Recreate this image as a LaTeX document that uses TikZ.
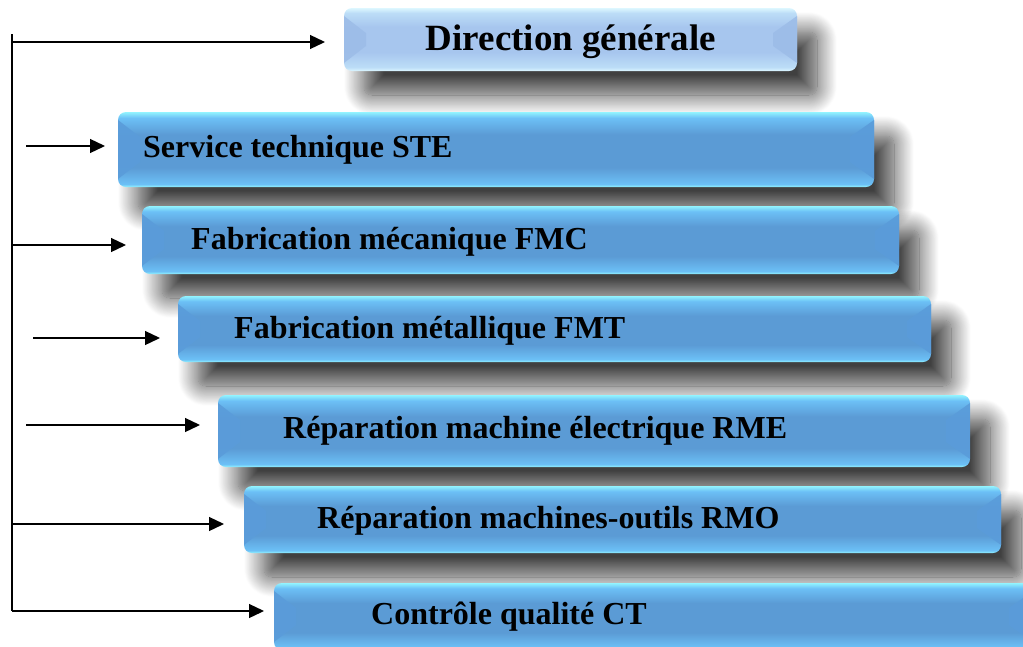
\documentclass[tikz,border=0pt]{standalone}
\usepackage{fontspec}
\setmainfont{Liberation Serif}
\usetikzlibrary{arrows.meta, calc, shadows.blur}

\definecolor{rimcyan}{HTML}{92F4FF}
\definecolor{barhi}{HTML}{6CC0F6}
\definecolor{barmid}{HTML}{5B9BD5}
\definecolor{facetblue}{HTML}{5A9CDA}
\definecolor{palerim}{HTML}{DDF7FF}
\definecolor{palehi}{HTML}{BCDDF7}
\definecolor{palemid}{HTML}{A7C6EE}
\definecolor{palefacet}{HTML}{9DBDE8}

\pgfdeclareverticalshading{bluebar}{100bp}{color(0bp)=(rimcyan); color(25bp)=(rimcyan); color(27bp)=(barhi); color(38bp)=(barmid); color(60bp)=(barmid); color(71bp)=(barhi); color(75bp)=(rimcyan); color(100bp)=(rimcyan)}
\pgfdeclareverticalshading{palebar}{100bp}{color(0bp)=(palerim); color(25bp)=(palerim); color(28bp)=(palehi); color(40bp)=(palemid); color(60bp)=(palemid); color(71bp)=(palehi); color(75bp)=(palerim); color(100bp)=(palerim)}

\tikzset{
  bar/.style={rounded corners=8pt, shading=bluebar, inner sep=0pt, outer sep=0pt,
    blur shadow={shadow xshift=20pt, shadow yshift=-24pt, shadow blur radius=20pt, shadow blur steps=24, shadow opacity=75}},
  lbl/.style={font=\bfseries\fontsize{32}{36}\selectfont, inner sep=0pt, anchor=base west},
  arr/.style={line width=1.3pt, -{Triangle[length=15pt,width=14pt]}}
}

\begin{document}
\begin{tikzpicture}[x=1pt, y=-1pt]
\useasboundingbox (0,0) rectangle (1023,646);

\node(b0)[bar, shading=palebar, minimum width=453pt, minimum height=63pt] at (570.5,39.5) {};
\node(b1)[bar, minimum width=756pt, minimum height=75pt] at (496,149.5) {};
\node(b2)[bar, minimum width=757pt, minimum height=68pt] at (520.5,240) {};
\node(b3)[bar, minimum width=753pt, minimum height=66pt] at (554.5,329) {};
\node(b4)[bar, minimum width=752pt, minimum height=72pt] at (594,431) {};
\node(b5)[bar, minimum width=757pt, minimum height=67pt] at (622.5,519.5) {};
\node(b6)[bar, minimum width=759pt, minimum height=67pt] at (653.5,616.5) {};

% bevelled ends
\foreach \b/\c in {b0/palefacet, b1/facetblue, b2/facetblue, b3/facetblue, b4/facetblue, b5/facetblue, b6/facetblue}{
  \fill[\c, fill opacity=0.9] ($(\b.north west)+(0,8)$) -- ($(\b.north west)+(22,25)$) -- ($(\b.south west)+(22,-25)$) -- ($(\b.south west)+(0,-8)$) -- cycle;
  \fill[\c, fill opacity=0.9] ($(\b.north east)+(0,8)$) -- ($(\b.north east)+(-24,25)$) -- ($(\b.south east)+(-24,-25)$) -- ($(\b.south east)+(0,-8)$) -- cycle;
}

\node(t0)[lbl, anchor=base, font=\bfseries\fontsize{37}{42}\selectfont] at (571,50) {Direction générale};
\node(t1)[lbl] at (143,157) {Service technique STE};
\node(t2)[lbl] at (191,249) {Fabrication mécanique FMC};
\node(t3)[lbl] at (234,338) {Fabrication métallique FMT};
\node(t4)[lbl] at (283,438) {Réparation machine électrique RME};
\node(t5)[lbl] at (317,528) {Réparation machines-outils RMO};
\node(t6)[lbl] at (371,624) {Contrôle qualité CT};

\coordinate (top) at (12,34);
\coordinate (s0) at (12,42);
\coordinate (s1) at (26,146);
\coordinate (s2) at (12,245);
\coordinate (s3) at (33,338);
\coordinate (s4) at (26,425);
\coordinate (s5) at (12,524);
\coordinate (s6) at (12,611);

\draw[line width=1.3pt] (top) -- (s6);
\draw[arr, shorten >=19pt] (s0) -- (s0 -| b0.west);
\draw[arr, shorten >=13pt] (s1) -- (s1 -| b1.west);
\draw[arr, shorten >=16pt] (s2) -- (s2 -| b2.west);
\draw[arr, shorten >=18pt] (s3) -- (s3 -| b3.west);
\draw[arr, shorten >=18pt] (s4) -- (s4 -| b4.west);
\draw[arr, shorten >=20pt] (s5) -- (s5 -| b5.west);
\draw[arr, shorten >=10pt] (s6) -- (s6 -| b6.west);
\end{tikzpicture}
\end{document}
